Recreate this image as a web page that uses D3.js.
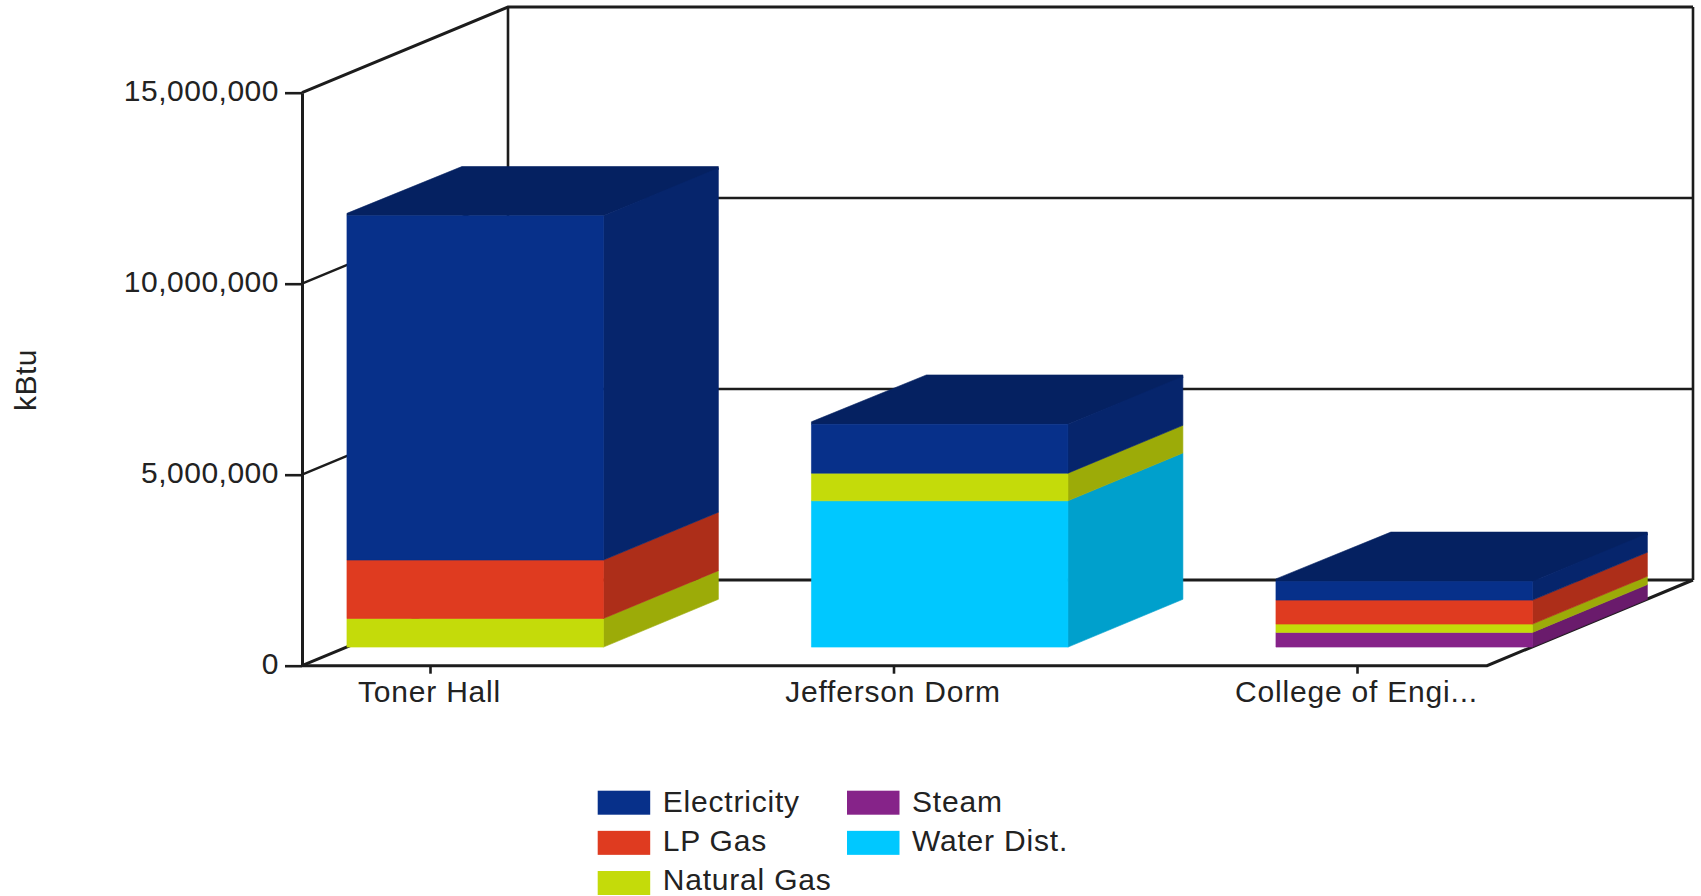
<!DOCTYPE html>
<html>
<head>
<meta charset="utf-8">
<script src="https://cdn.jsdelivr.net/npm/d3@7/dist/d3.min.js"></script>
<style>
  html, body { margin: 0; padding: 0; background: #fff; overflow: hidden; }
  svg { display: block; }
  text { font-family: "Liberation Sans", Arial, sans-serif; fill: #222; letter-spacing: 0.5px; }
  .wide text, text.wide { letter-spacing: 0.8px; }
</style>
</head>
<body>
<svg id="chart" width="1701" height="896"></svg>
<script>
// Energy use by building, stacked from the floor upward (kBtu)
const buildings = ["Toner Hall", "Jefferson Dorm", "College of Engi..."];
const fuels = ["Steam", "Water Dist.", "Natural Gas", "LP Gas", "Electricity"];
const steam       = [0, 0, 385000];
const waterDist   = [0, 3830000, 0];
const naturalGas  = [749000, 723000, 217000];
const lpGas       = [1530000, 0, 628000];
const electricity = [9010000, 1280000, 490000];
const yTicks = [0, 5000000, 10000000, 15000000];
const legendOrder = ["Electricity", "LP Gas", "Natural Gas", "Steam", "Water Dist."];

const seriesValues = {
  "Steam": steam,
  "Water Dist.": waterDist,
  "Natural Gas": naturalGas,
  "LP Gas": lpGas,
  "Electricity": electricity
};

// Front, side and top shades for each fuel
const frontColor = { "Electricity": "#07308a", "LP Gas": "#df3b20", "Natural Gas": "#c4db0a", "Steam": "#862389", "Water Dist.": "#00c8ff" };
const sideColor  = { "Electricity": "#06256c", "LP Gas": "#ad2e19", "Natural Gas": "#9cab08", "Steam": "#6a1b6c", "Water Dist.": "#00a0cc" };
const topColor   = "#052161";

// Oblique box geometry
const depthX = 206, depthY = 85.7;
const axisX = 302, floorRight = 1487;
const barZ0 = 0.217, barZ1 = 0.775, barWidth = 256.5, topLift = 2.5;
const fontSize = 30;

const y = d3.scaleLinear().domain([0, 15000000]).range([665.7, 92.7]);
const x = d3.scalePoint().domain(buildings).range([430, 1357]);
// Box centres sit slightly wider apart than the axis ticks once projected
const barX = d3.scalePoint().domain(buildings).range([430.5, 1359.5]);

const pt = (px, value, z) => [px + z * depthX, y(value) - z * depthY];
const poly = pts => pts.map(p => p.join(",")).join(" ");

const svg = d3.select("#chart");
const lineColor = "#1c1c1c";

// Back wall and side wall with gridlines
const frame = svg.append("g").attr("fill", "none").attr("stroke", lineColor);
yTicks.forEach(t => {
  const isEdge = t === 0 || t === 15000000;
  frame.append("polyline")
    .attr("stroke-width", isEdge ? 3 : 2.4)
    .attr("points", poly([pt(axisX, t, 0), pt(axisX, t, 1), pt(floorRight, t, 1)]));
});
frame.append("line").attr("stroke-width", 2.6)
  .attr("x1", pt(axisX, 0, 1)[0]).attr("x2", pt(axisX, 0, 1)[0])
  .attr("y1", pt(axisX, 0, 1)[1]).attr("y2", pt(axisX, 15000000, 1)[1]);
frame.append("line").attr("stroke-width", 2.6)
  .attr("x1", pt(floorRight, 0, 1)[0]).attr("x2", pt(floorRight, 0, 1)[0])
  .attr("y1", pt(floorRight, 0, 1)[1]).attr("y2", pt(floorRight, 15000000, 1)[1]);
frame.append("polyline").attr("stroke-width", 3)
  .attr("points", poly([pt(axisX, 0, 0), pt(floorRight, 0, 0), pt(floorRight, 0, 1)]));

// Stacked boxes
const stacked = d3.stack().keys(fuels).value((row, key) => seriesValues[key][row])(d3.range(buildings.length));
const barsLayer = svg.append("g");

const face = (g, color, pts) => g.append("polygon")
  .attr("fill", color).attr("stroke", color).attr("stroke-width", 0.6)
  .attr("points", poly(pts));

buildings.forEach((name, i) => {
  const left = barX(name) - barWidth / 2;
  const right = left + barWidth;
  const g = barsLayer.append("g");
  const total = d3.max(stacked, layer => layer[i][1]);
  const fl = pt(left, total, barZ0), fr = pt(right, total, barZ0);
  const bl = pt(left, total, barZ1), br = pt(right, total, barZ1);
  face(g, topColor, [fl, [fl[0], fl[1] - topLift], [bl[0], bl[1] - 1.5], [br[0], br[1] - 1.5], [br[0], br[1] + 1.5], fr]);
  stacked.forEach(layer => {
    const [v0, v1] = layer[i];
    if (v1 <= v0) return;
    face(g, sideColor[layer.key], [pt(right, v0, barZ0), pt(right, v0, barZ1), pt(right, v1, barZ1), pt(right, v1, barZ0)]);
    face(g, frontColor[layer.key], [pt(left, v0, barZ0), pt(right, v0, barZ0), pt(right, v1, barZ0), pt(left, v1, barZ0)]);
  });
});

// Axes
const yAxis = d3.axisLeft(y).tickValues(yTicks).tickSize(17).tickSizeOuter(0).tickPadding(6)
  .tickFormat(d3.format(","));
const gy = svg.append("g").attr("transform", `translate(${axisX},0)`).call(yAxis);
gy.select(".domain").attr("stroke", lineColor).attr("stroke-width", 3);
gy.selectAll(".tick line").attr("stroke", lineColor).attr("stroke-width", 2.6);
gy.selectAll(".tick text").attr("font-size", fontSize).attr("fill", "#222").attr("dy", "0.26em");

const xAxis = d3.axisBottom(x).tickSize(8).tickPadding(7);
const gx = svg.append("g").attr("class", "wide").attr("transform", `translate(0,${y(0)})`).call(xAxis);
gx.select(".domain").remove();
gx.selectAll(".tick line").attr("stroke", lineColor).attr("stroke-width", 2.6);
gx.selectAll(".tick text").attr("font-size", fontSize).attr("fill", "#222").attr("dx", -1);

svg.append("text")
  .attr("transform", "translate(36,380) rotate(-90)")
  .attr("text-anchor", "middle").attr("font-size", fontSize)
  .text("kBtu");

// Legend, two columns filled top to bottom
const legendRows = 3;
const legendX = d3.scalePoint().domain([0, 1]).range([597.7, 847]);
const legendY = d3.scalePoint().domain([0, 1, 2]).range([790.7, 871]);
const legendBaseline = d3.scalePoint().domain([0, 1, 2]).range([811.5, 889.6]);
const legend = svg.append("g").attr("class", "wide");
legendOrder.forEach((name, i) => {
  const col = Math.floor(i / legendRows), row = i % legendRows;
  const g = legend.append("g").attr("transform", `translate(${legendX(col)},0)`);
  g.append("rect").attr("y", legendY(row)).attr("width", 52.5).attr("height", 24).attr("fill", frontColor[name]);
  g.append("text").attr("x", 65).attr("y", legendBaseline(row)).attr("font-size", fontSize).text(name);
});
</script>
</body>
</html>
